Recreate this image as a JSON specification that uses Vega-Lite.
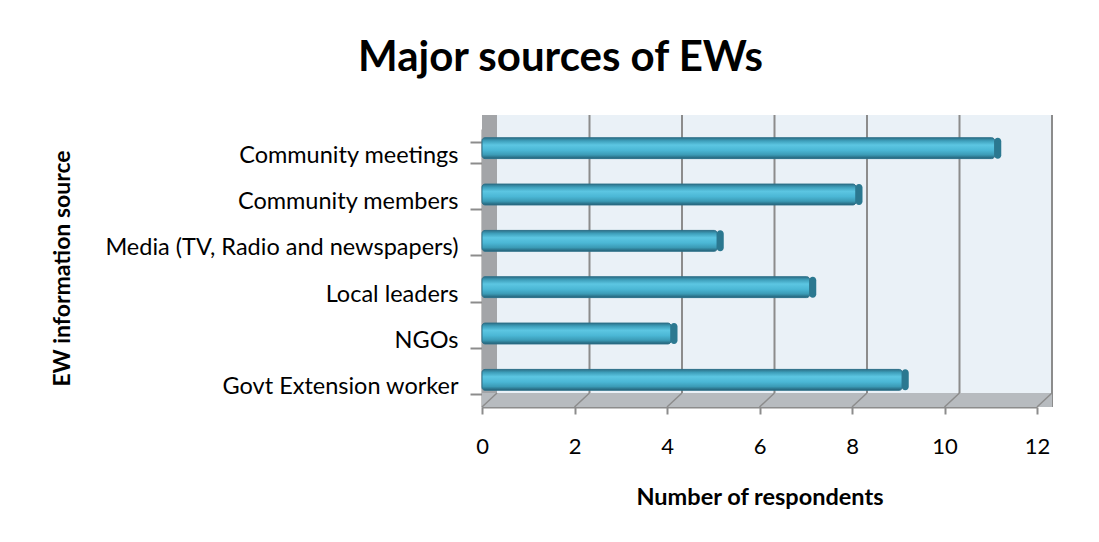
{
  "$schema": "https://vega.github.io/schema/vega-lite/v6.json",
  "autosize": "none",
  "width": 555,
  "height": 278,
  "padding": {"left": 482, "top": 129, "right": 62, "bottom": 135},
  "background": "white",
  "config": {"view": {"stroke": null}, "font": "Lato"},
  "title": {
    "text": "Major sources of EWs",
    "font": "Lato",
    "fontSize": 42,
    "fontWeight": "bold",
    "color": "black",
    "anchor": "middle",
    "frame": "group",
    "dx": -199,
    "offset": 34
  },
  "datasets": {
    "sources": [
      {"source": "Community meetings", "respondents": 11},
      {"source": "Community members", "respondents": 8},
      {"source": "Media (TV, Radio and newspapers)", "respondents": 5},
      {"source": "Local leaders", "respondents": 7},
      {"source": "NGOs", "respondents": 4},
      {"source": "Govt Extension worker", "respondents": 9}
    ],
    "gridlines": [{"g": 2}, {"g": 4}, {"g": 6}, {"g": 8}, {"g": 10}, {"g": 12}],
    "floorlines": [{"g": 0}, {"g": 2}, {"g": 4}, {"g": 6}, {"g": 8}, {"g": 10}, {"g": 12}]
  },
  "layer": [
    {
      "data": {"name": "sources"},
      "mark": {"type": "rect", "fill": "#EAF1F7", "xOffset": 15, "x2Offset": 15, "yOffset": -14, "y2Offset": -14},
      "encoding": {
        "x": {"datum": 0, "type": "quantitative"},
        "x2": {"datum": 12}
      }
    },
    {
      "data": {"name": "gridlines"},
      "mark": {"type": "rule", "color": "#8C8C8C", "strokeWidth": 2, "xOffset": 15, "yOffset": -14, "y2Offset": -14},
      "encoding": {
        "x": {"field": "g", "type": "quantitative"}
      }
    },
    {
      "data": {"name": "sources"},
      "mark": {"type": "rect", "fill": "#A3A5A8", "x2Offset": 15, "yOffset": -14},
      "encoding": {
        "x": {"datum": 0, "type": "quantitative"},
        "x2": {"datum": 0}
      }
    },
    {
      "data": {"name": "sources"},
      "mark": {"type": "rect", "fill": "#B7BBBF", "x2Offset": 15, "yOffset": -14},
      "encoding": {
        "x": {"datum": 0, "type": "quantitative"},
        "x2": {"datum": 12},
        "y": {"value": "height"},
        "y2": {"value": "height"}
      }
    },
    {
      "data": {"name": "floorlines"},
      "mark": {"type": "rule", "color": "#8C8C8C", "strokeWidth": 1.5, "y2Offset": -14, "x2Offset": 15},
      "encoding": {
        "x": {"field": "g", "type": "quantitative"},
        "x2": {"field": "g"},
        "y": {"value": "height"},
        "y2": {"value": "height"}
      }
    },
    {
      "data": {"name": "sources"},
      "mark": {
        "type": "bar",
        "xOffset": 4,
        "x2Offset": 4,
        "yOffset": -4,
        "cornerRadius": 3,
        "stroke": "#2C7089",
        "strokeWidth": 1,
        "color": {
          "gradient": "linear",
          "x1": 0, "y1": 0, "x2": 0, "y2": 1,
          "stops": [
            {"offset": 0, "color": "#2D7189"},
            {"offset": 0.15, "color": "#3E9FBB"},
            {"offset": 0.35, "color": "#5CC6E2"},
            {"offset": 0.6, "color": "#4BB7D5"},
            {"offset": 0.82, "color": "#3B9BB6"},
            {"offset": 1, "color": "#235F75"}
          ]
        }
      },
      "encoding": {
        "y": {
          "field": "source",
          "type": "nominal",
          "sort": null,
          "scale": {"paddingInner": 0.55, "paddingOuter": 0.275},
          "axis": {
            "title": "EW information source",
            "titleFont": "Lato",
            "titleFontSize": 23,
            "titleFontWeight": "bold",
            "titleColor": "black",
            "titleX": -408,
            "titleY": 139,
            "labelFont": "Lato",
            "labelFontSize": 23.5,
            "labelColor": "black",
            "labelLimit": 0,
            "labelPadding": 12,
            "labelOffset": 3,
            "tickBand": "extent",
            "tickSize": 12,
            "tickColor": "#8C8C8C",
            "tickWidth": 2,
            "domainColor": "#8C8C8C",
            "domainWidth": 2
          }
        },
        "x": {
          "field": "respondents",
          "type": "quantitative",
          "stack": null,
          "scale": {"domain": [0, 12], "nice": false},
          "axis": {
            "title": "Number of respondents",
            "titleFont": "Lato",
            "titleFontSize": 23.5,
            "titleFontWeight": "bold",
            "titleColor": "black",
            "titleY": 90,
            "titleBaseline": "middle",
            "values": [0, 2, 4, 6, 8, 10, 12],
            "grid": false,
            "labelFont": "Lato",
            "labelFontSize": 22,
            "labelColor": "black",
            "labelFlush": false,
            "labelPadding": 22,
            "tickSize": 7,
            "tickColor": "#8C8C8C",
            "tickWidth": 2,
            "domainColor": "#8C8C8C",
            "domainWidth": 2
          }
        }
      }
    },
    {
      "data": {"name": "sources"},
      "mark": {"type": "tick", "orient": "vertical", "color": "#2B7890", "opacity": 1, "thickness": 7, "size": 21, "cornerRadius": 3.5, "xOffset": 7, "yOffset": -4},
      "encoding": {
        "y": {"field": "source", "type": "nominal", "sort": null},
        "x": {"field": "respondents", "type": "quantitative"}
      }
    }
  ]
}
